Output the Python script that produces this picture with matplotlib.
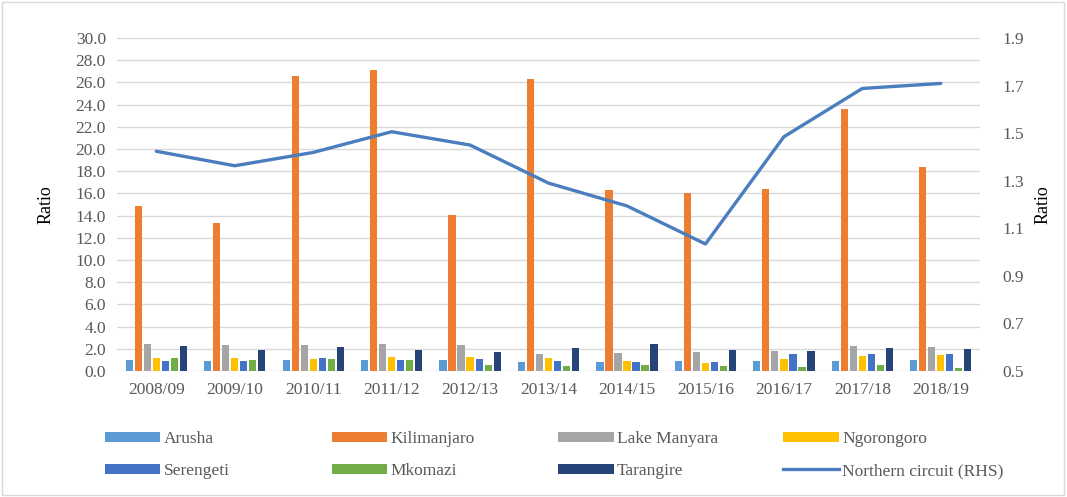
import numpy as np
import matplotlib.pyplot as plt
from matplotlib.patches import Patch, Rectangle
from matplotlib.lines import Line2D

plt.rcParams['font.family'] = ['Liberation Serif', 'DejaVu Serif']

years = ["2008/09", "2009/10", "2010/11", "2011/12", "2012/13", "2013/14",
         "2014/15", "2015/16", "2016/17", "2017/18", "2018/19"]

arusha = [1.0, 0.9, 1.0, 1.0, 0.96, 0.78, 0.81, 0.9, 0.87, 0.93, 1.02]
kilimanjaro = [14.9, 13.3, 26.6, 27.1, 14.1, 26.3, 16.3, 16.0, 16.4, 23.6, 18.4]
lake_manyara = [2.4, 2.3, 2.3, 2.46, 2.37, 1.56, 1.59, 1.68, 1.83, 2.28, 2.16]
ngorongoro = [1.2, 1.2, 1.05, 1.26, 1.26, 1.17, 0.9, 0.75, 1.1, 1.35, 1.47]
serengeti = [0.93, 0.93, 1.2, 1.0, 1.05, 0.9, 0.84, 0.84, 1.53, 1.53, 1.53]
mkomazi = [1.17, 1.0, 1.1, 1.0, 0.57, 0.48, 0.57, 0.42, 0.39, 0.54, 0.3]
tarangire = [2.25, 1.9, 2.16, 1.9, 1.7, 2.07, 2.43, 1.9, 1.83, 2.1, 2.0]
northern_circuit = [1.424, 1.363, 1.419, 1.506, 1.45, 1.29, 1.194, 1.034, 1.485, 1.688, 1.709]

bar_names = ["Arusha", "Kilimanjaro", "Lake Manyara", "Ngorongoro",
             "Serengeti", "Mkomazi", "Tarangire"]
bar_data = [arusha, kilimanjaro, lake_manyara, ngorongoro, serengeti, mkomazi, tarangire]
bar_colors = ["#5B9BD5", "#ED7D31", "#A5A5A5", "#FFC000", "#4472C4", "#70AD47", "#264478"]
line_color = "#4A7EBF"
tick_color = "#595959"

fig = plt.figure(figsize=(10.67, 4.97), dpi=100)
ax = fig.add_axes([0.1097, 0.2535, 0.8088, 0.67])

x = np.arange(len(years))
slot = 0.115
width = 0.092
for i, (vals, col) in enumerate(zip(bar_data, bar_colors)):
    ax.bar(x + (i - 3) * slot, vals, width, color=col, zorder=3)

ax.set_ylim(0, 30)
ax.set_yticks(np.arange(0, 30.1, 2))
ax.set_yticklabels([f"{v:.1f}" for v in np.arange(0, 30.1, 2)])
ax.set_xlim(-0.5, len(years) - 0.5)
ax.set_xticks(x)
ax.set_xticklabels(years)
ax.grid(axis='y', color='#D9D9D9', linewidth=1, zorder=0)
ax.set_axisbelow(True)
for s in ax.spines.values():
    s.set_visible(False)
ax.tick_params(length=0, labelsize=12.5, colors=tick_color, pad=8)
ax.set_ylabel("Ratio", fontsize=13, color='black')
ax.yaxis.set_label_coords(-0.073, 0.5)

ax2 = ax.twinx()
ax2.plot(x, northern_circuit, color=line_color, linewidth=2.4, zorder=4,
         solid_capstyle='round')
ax2.set_ylim(0.5, 1.9)
ax2.set_yticks(np.arange(0.5, 1.91, 0.2))
ax2.set_yticklabels([f"{v:.1f}" for v in np.arange(0.5, 1.91, 0.2)])
for s in ax2.spines.values():
    s.set_visible(False)
ax2.tick_params(length=0, labelsize=12.5, colors=tick_color, pad=16)
ax2.set_ylabel("Ratio", fontsize=13, color='black')
ax2.yaxis.set_label_coords(1.0637, 0.5)

# legend: 4 columns, 2 rows
handles = [Patch(facecolor=c, edgecolor='none') for c in bar_colors]
handles.append(Line2D([0], [0], color=line_color, linewidth=2.4))
labels = bar_names + ["Northern circuit (RHS)"]
col_x = [0.098, 0.311, 0.523, 0.734]
for j in range(4):
    leg = fig.legend([handles[j], handles[j + 4]], [labels[j], labels[j + 4]],
                     loc='upper left', bbox_to_anchor=(col_x[j], 0.132),
                     frameon=False, fontsize=12.5, handlelength=3.2,
                     handleheight=0.5, handletextpad=0.2, labelspacing=0.9,
                     borderpad=0, borderaxespad=0)
    for t in leg.get_texts():
        t.set_color(tick_color)

fig.add_artist(Rectangle((0.002, 0.004), 0.995, 0.992, transform=fig.transFigure,
                         fill=False, edgecolor='#D9D9D9', linewidth=1))

fig.savefig("out.png", dpi=100)
